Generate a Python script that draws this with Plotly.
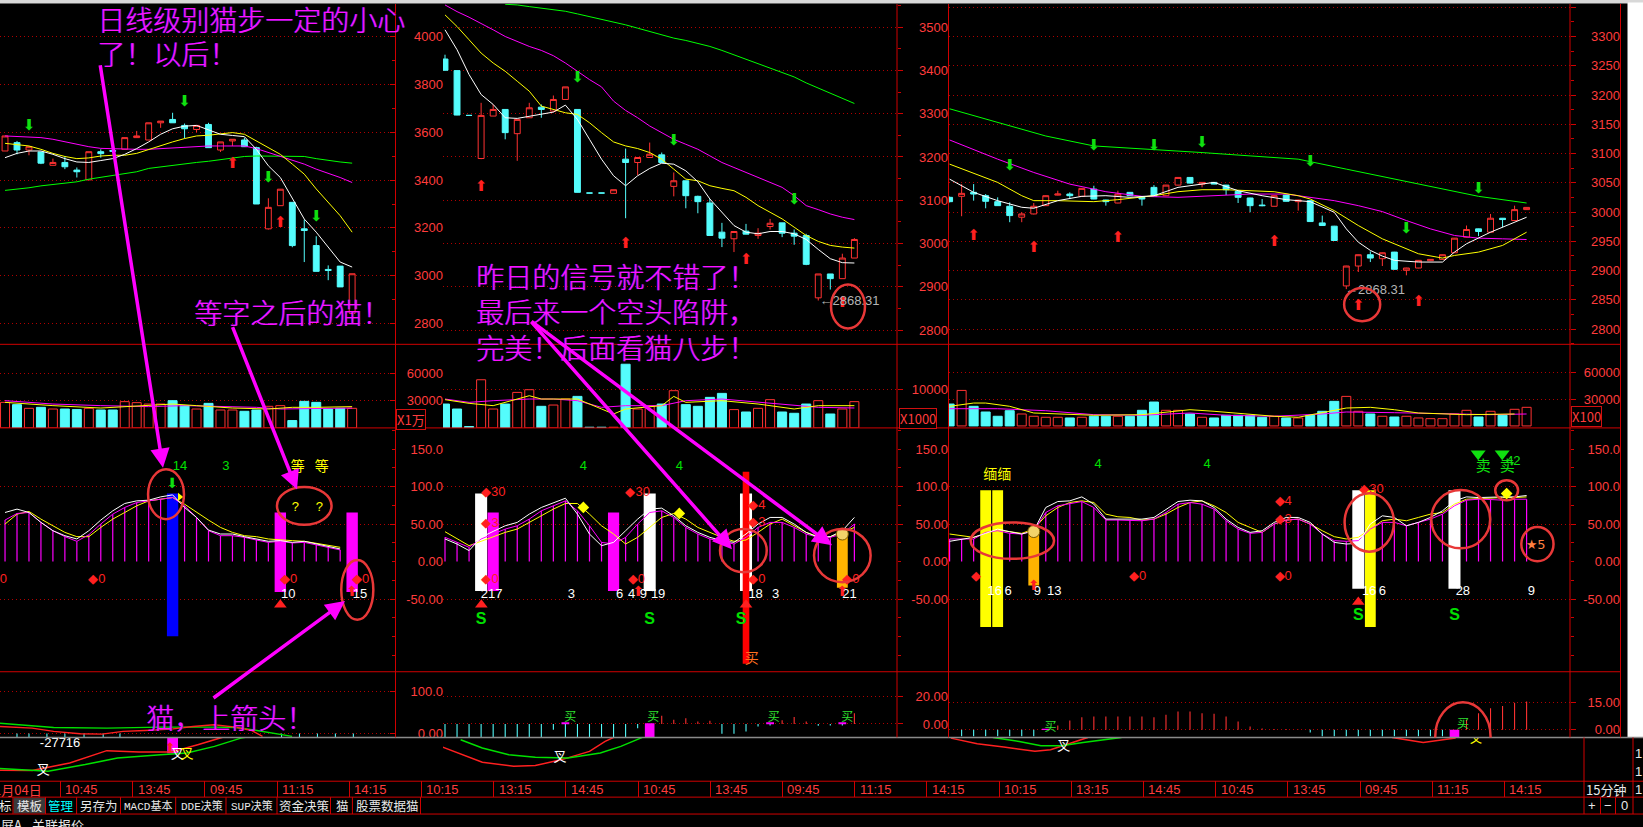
import plotly.graph_objects as go

W, H = 1643, 827

# ============================== DATA ==============================
# ---------- left column (daily), price scale 2800-4000 ----------
L_OPEN = [3522, 3557, 3526, 3518, 3462, 3474, 3442, 3401, 3519, 3524, 3529, 3578, 3568, 3640, 3654,
          3629, 3612, 3633, 3526, 3564, 3568, 3536, 3196, 3293, 3307, 3196, 3126, 3026, 3040, 2842]
L_HIGH = [3585, 3564, 3540, 3518, 3490, 3501, 3453, 3519, 3529, 3532, 3578, 3606, 3640, 3647, 3682,
          3637, 3629, 3640, 3560, 3571, 3578, 3540, 3324, 3362, 3307, 3235, 3165, 3043, 3040, 3008]
L_LOW = [3522, 3508, 3504, 3467, 3462, 3446, 3411, 3401, 3494, 3515, 3529, 3578, 3568, 3619, 3640,
         3574, 3601, 3536, 3518, 3543, 3540, 3300, 3193, 3293, 3119, 3057, 3018, 2981, 2953, 2842]
L_CLOSE = [3585, 3526, 3540, 3471, 3474, 3456, 3435, 3519, 3511, 3521, 3578, 3585, 3640, 3647, 3640,
           3615, 3629, 3536, 3560, 3571, 3540, 3300, 3286, 3362, 3126, 3189, 3018, 3022, 2953, 3008]
L_MA5 = [3494, 3512, 3522, 3522, 3508, 3490, 3476, 3474, 3482, 3490, 3508, 3532, 3560, 3592, 3615,
         3626, 3629, 3612, 3592, 3587, 3582, 3529, 3460, 3411, 3321, 3237, 3182, 3119, 3057, 3036]
L_MA10 = [3554, 3549, 3543, 3529, 3512, 3499, 3490, 3493, 3501, 3504, 3504, 3512, 3529, 3543, 3560,
          3574, 3585, 3588, 3593, 3599, 3592, 3564, 3536, 3508, 3467, 3425, 3363, 3307, 3251, 3182]
L_MA20 = [3585, 3583, 3581, 3578, 3571, 3560, 3549, 3540, 3533, 3531, 3529, 3529, 3529, 3532, 3535,
          3539, 3543, 3543, 3543, 3543, 3543, 3532, 3515, 3499, 3481, 3467, 3446, 3429, 3411, 3390]
L_MA60 = [3357, 3362, 3368, 3376, 3382, 3387, 3393, 3404, 3411, 3418, 3425, 3435, 3449, 3456, 3462,
          3468, 3474, 3479, 3485, 3490, 3499, 3501, 3501, 3501, 3501, 3499, 3490, 3482, 3476, 3471]
L_VOL = [28240, 25714, 21648, 22747, 20879, 20879, 20220, 21648, 19780, 19780, 29011, 27912, 26374, 26374, 30110,
         24615, 20879, 27143, 19780, 19780, 18352, 19780, 23846, 24615, 8132, 29341, 28242, 20879, 21648, 21648]
L_VMA_A_X = [0, 4, 8, 12, 14, 16, 19, 22, 24, 26, 29]
L_VMA_A = [28243, 24617, 21980, 24617, 26376, 24617, 21980, 20881, 22749, 22749, 23519]
L_VMA_B_X = [0, 4, 8, 12, 15, 18, 21, 23, 26, 29]
L_VMA_B = [30113, 26376, 24617, 23519, 24617, 23519, 22749, 20881, 21650, 21980]
L_K = [65.4, 69.9, 65.4, 52.2, 41.1, 34.5, 30.1, 41.1, 55.3, 67.6, 77.4, 80.9, 81.8, 86.2, 88.9,
       72.1, 58.8, 42.0, 36.7, 36.7, 33.2, 30.1, 27.0, 27.9, 25.6, 27.0, 23.4, 19.9, 16.8]
L_D = [50.0, 63.2, 66.8, 56.6, 47.7, 38.9, 33.2, 33.2, 45.5, 56.6, 65.4, 74.3, 80.9, 83.1, 85.3,
       76.5, 65.4, 55.3, 45.5, 38.9, 34.5, 33.2, 30.1, 28.7, 27.9, 27.0, 24.3, 21.2, 19.0]
L_J = [55.3, 64.1, 65.4, 52.2, 41.1, 33.2, 27.0, 35.8, 50.0, 63.2, 72.1, 78.7, 80.9, 83.1, 85.3,
       74.3, 58.8, 41.1, 34.5, 34.5, 32.3, 28.7, 25.6, 27.0, 24.8, 25.6, 22.5, 19.0, 15.5]
L_BLUE_X, L_BLUE_LO, L_BLUE_HI = [14], [-99.5], [90.6]
L_MAGBAR_X, L_MAGBAR_LO, L_MAGBAR_HI = [23, 29], [-40.7, -40.7], [65.4, 65.4]
L_HIST_X = [1, 2, 3.5, 5, 6.6, 8.2, 9.6, 23.1, 24.6, 26.1, 27.6, 29.1]
L_HIST = [-9.5, -9.5, -9.5, -9.5, -9.5, -9.5, -9.5, -9.5, -9.5, -9.5, -9.5, -9.5]
L_UPG_X = [-0.42, 4.06, 8.52, 13.0, 17.46, 19.27, 21.05, 22.85, 23.98]
L_UPG = [24.5, 14.3, 12.6, 15.0, 15.0, 14.3, 7.1, -0.7, -7.1]
L_UPR_X = [-0.42, 2.26, 4.06, 6.26, 8.1, 9.86, 11.66, 13.87, 15.7, 17.46, 19.27, 20.6, 21.51]
L_UPR = [16.7, 12.6, 4.8, -0.7, -1.7, 4.8, 7.1, 10.2, 16.7, 20.7, 15.0, 7.1, -7.1]
L_LOR_X = [-0.42, 2.26, 5.4, 8.5, 11.2, 13.9, 16.1, 18.4]
L_LOR = [-33000, -33300, -25700, -13300, -14700, -14700, -7300, 1000]
L_LOG_X = [-0.42, 3.6, 6.7, 9.4, 13.0, 15.2, 17.5, 19.7, 22.0]
L_LOG = [-31300, -34000, -27300, -20700, -17300, -15700, -9000, -700, 4000]
L_DN_X, L_DN_Y = [2, 15, 22, 26], [3626, 3724, 3407, 3244]
L_UPA_X, L_UPA_Y = [19, 23], [3467, 3221]

# ---------- middle column (60 min), price scale 2800-3500 ----------
M_OPEN = [3426.4, 3399.6, 3296.1, 3196.5, 3294.6, 3309.9, 3253.9, 3290.7, 3315.2, 3306.1, 3332.9, 3309.9,
          3116.7, 3116.7, 3116.0, 3195.0, 3187.3, 3198.8, 3204.9, 3132.1, 3145.1, 3109.1, 3093.8, 3026.3,
          3011.0, 3028.6, 3018.6, 3039.3, 3047.8, 3024.0, 3018.6, 2874.5, 2929.7, 2918.9, 2966.5]
M_HIGH = [3436.4, 3400.0, 3296.5, 3325.2, 3321.4, 3310.0, 3287.0, 3325.2, 3321.4, 3342.1, 3362.0, 3310.0,
          3117.0, 3117.0, 3124.4, 3219.5, 3198.8, 3233.3, 3210.3, 3164.3, 3145.1, 3110.6, 3102.9, 3047.8,
          3027.8, 3045.4, 3035.5, 3056.9, 3047.8, 3032.4, 3022.5, 2929.7, 2929.7, 2976.5, 3012.5]
M_LOW = [3399.6, 3296.5, 3295.7, 3194.9, 3294.6, 3240.9, 3191.1, 3290.7, 3290.7, 3303.0, 3332.9, 3118.0,
         3116.4, 3116.4, 3116.0, 3058.5, 3158.1, 3198.8, 3187.3, 3109.1, 3081.5, 3070.0, 3018.6, 2991.8,
         2980.3, 3021.7, 3011.0, 3032.4, 3014.8, 2997.2, 2950.0, 2868.31, 2893.7, 2918.9, 2966.5]
M_CLOSE = [3400.4, 3296.9, 3296.1, 3296.1, 3309.9, 3256.3, 3286.9, 3313.7, 3309.9, 3332.9, 3362.0, 3118.3,
           3116.7, 3116.7, 3124.4, 3187.3, 3198.8, 3206.4, 3187.3, 3145.1, 3110.6, 3096.8, 3018.6, 3012.5,
           3027.8, 3021.7, 3024.0, 3046.9, 3024.0, 3017.1, 2951.9, 2929.7, 2918.9, 2966.5, 3009.4]
M_MA5 = [3493.9, 3447.9, 3390.4, 3344.4, 3321.4, 3290.7, 3289.2, 3294.6, 3299.9, 3303.8, 3319.9, 3286.9,
         3240.9, 3194.9, 3156.6, 3133.6, 3156.6, 3173.5, 3185.7, 3183.4, 3168.1, 3142.8, 3102.9, 3072.3,
         3041.6, 3026.3, 3022.5, 3027.8, 3027.8, 3022.5, 3009.4, 2986.4, 2965.0, 2955.8, 2955.0]
M_MA10 = [3528.4, 3501.5, 3470.9, 3440.2, 3417.2, 3398.1, 3375.1, 3352.1, 3317.6, 3309.9, 3302.2, 3298.4,
          3279.2, 3256.3, 3234.8, 3225.6, 3219.5, 3210.3, 3194.9, 3171.9, 3148.9, 3145.1, 3133.6, 3127.5,
          3122.1, 3106.8, 3087.6, 3072.3, 3057.0, 3037.8, 3018.6, 3004.9, 2995.7, 2991.8, 2989.5]
M_MA20 = [3551.4, 3536.0, 3523.0, 3509.2, 3493.9, 3478.5, 3467.0, 3455.5, 3446.3, 3434.1, 3417.2, 3398.1,
          3378.9, 3362.0, 3329.1, 3307.6, 3290.7, 3271.6, 3256.3, 3240.9, 3229.4, 3217.9, 3202.6, 3187.3,
          3175.8, 3164.3, 3152.8, 3141.3, 3129.8, 3110.6, 3087.6, 3078.4, 3068.4, 3060.8, 3055.4]
M_MA60 = [None, None, None, None, None, 3552.9, 3551.4, 3547.5, 3543.7, 3539.9, 3536.8, 3530.7,
          3524.5, 3518.4, 3511.5, 3505.4, 3497.7, 3490.0, 3482.4, 3474.7, 3469.3, 3463.2, 3455.5, 3446.3,
          3436.4, 3424.9, 3415.7, 3405.7, 3395.8, 3385.0, 3371.2, 3359.7, 3348.2, 3336.0, 3323.7]
M_VOL = [6185, 4896, 361, 12473, 4896, 6185, 9200, 9896, 5592, 5927, 7473, 8169, 180, 180, 180, 16493, 4896, 5669,
         6185, 9638, 6030, 5592, 7911, 8942, 4742, 4123, 5077, 7319, 4123, 3788, 6185, 7061, 3608, 4896, 6803]
M_VMA_A_X = [0, 2, 4, 5, 7, 8, 10, 11, 13, 14, 15, 18, 19, 20, 23, 26, 29, 31, 34]
M_VMA_A = [7311, 6365, 5764, 6623, 8341, 7481, 7481, 7481, 4904, 3616, 4904, 5764, 8169, 6623, 7053, 6193, 4904, 5764, 5764]
M_VMA_B_X = [0, 2, 4, 7, 9, 11, 13, 15, 18, 20, 23, 26, 29, 31, 34]
M_VMA_B = [7481, 6623, 7053, 7481, 7481, 7053, 5334, 5764, 5764, 7053, 7481, 6623, 5764, 5334, 5162]
M_K = [30.1, 23.4, 14.6, 32.3, 40.2, 47.7, 52.2, 63.2, 72.1, 78.7, 84.4, 63.2, 36.7, 21.2, 25.6, 41.1, 56.6, 69.9,
       71.2, 61.0, 47.7, 38.9, 32.3, 27.9, 25.6, 36.7, 50.0, 58.8, 58.8, 50.0, 38.9, 32.3, 33.2, 41.1, 58.8]
M_D = [39.8, 30.1, 21.2, 27.0, 33.2, 38.9, 43.3, 52.2, 61.0, 69.9, 77.4, 77.4, 63.2, 47.7, 36.7, 23.4, 32.3, 45.5,
       58.8, 64.1, 56.6, 45.5, 38.9, 32.3, 27.0, 28.7, 38.9, 50.0, 56.6, 47.7, 38.9, 33.2, 33.2, 38.9, 45.5]
M_J = [32.3, 25.6, 19.0, 30.1, 36.7, 43.3, 47.7, 56.6, 67.6, 74.3, 80.9, 67.6, 47.7, 25.6, 23.4, 32.3, 50.0, 65.4,
       67.6, 58.8, 45.5, 36.7, 30.1, 27.0, 23.4, 32.3, 45.5, 52.2, 52.2, 45.5, 36.7, 32.3, 32.3, 36.7, 50.0]
M_WHITE_X, M_WHITE_LO, M_WHITE_HI = [3, 17, 25], [-39.3, -39.3, -39.3], [90.6, 90.6, 90.6]
M_MAGBAR_X, M_MAGBAR_LO, M_MAGBAR_HI = [4, 14], [-39.3, -39.3], [65.4, 65.4]
M_RED_X, M_RED_LO, M_RED_HI = [25], [-136.2], [119.8]
M_ORANGE_X, M_ORANGE_LO, M_ORANGE_HI = [33], [-34.9], [36.7]
M_HIST = [-9.6, -9.6, -9.6, -9.6, -9.6, -9.6, -9.6, -9.6, -9.6, -4.1, -9.6, -9.6, -9.6, -9.6, -9.6, -9.6, -3.0,
          -9.6, 5.9, 3.0, 4.1, 1.8, 2.3, -7.0, -7.0, -5.4, -1.8, -1.0, 2.7, 5.0, 1.8, -1.3, -1.0, -1.0, 7.7]
M_LOR_X = [-1.8, 0, 1.75, 3.1, 5.7, 7.5, 9.7, 12.0, 13.3, 14.2]
M_LOR = [-2300, -10700, -19000, -25000, -29000, -28300, -22300, -14000, -4000, 1000]
M_LOG_X = [1.3, 3.1, 5.3, 7.5, 10.2, 12.9, 14.6, 16.4]
M_LOG = [-2300, -10700, -17300, -20000, -20700, -15700, -9000, 0]
M_DN_X, M_DN_Y = [11, 19, 29], [3382.7, 3237.1, 3099.1]
M_UPA_X, M_UPA_Y = [3, 15, 25, 33], [3129.8, 2997.9, 2961.1, 2861.5]

# ---------- right column (15 min), price scale 2800-3350 ----------
R_OPEN = [3025.2, 3026.9, 3033.7, 3028.0, 3017.8, 3009.9, 2991.2, 2996.8, 3011.0, 3029.0, 3030.8, 3026.9, 3039.3,
          3020.6, 3015.5, 3033.7, 3025.2, 3042.2, 3028.0, 3046.1, 3059.2, 3047.8, 3050.7, 3046.1, 3035.4, 3024.1,
          3012.0, 3009.9, 3029.1, 3017.8, 3019.5, 2981.5, 2975.9, 2873.8, 2907.8, 2927.1, 2920.3, 2931.6, 2900.5,
          2904.4, 2916.9, 2919.2, 2930.5, 2957.1, 2971.3, 2965.6, 2989.5, 2985.5, 3004.2]
R_HIGH = [3026.5, 3047.8, 3047.8, 3030.8, 3025.2, 3016.6, 2999.7, 3015.5, 3028.5, 3036.5, 3033.7, 3041.0, 3045.0,
          3021.0, 3036.5, 3034.0, 3025.5, 3046.1, 3046.5, 3059.5, 3059.5, 3051.0, 3051.0, 3046.5, 3035.8, 3024.5,
          3022.3, 3028.5, 3029.5, 3021.0, 3020.0, 2994.0, 2976.5, 2908.2, 2927.5, 2932.8, 2931.0, 2932.0, 2904.8,
          2918.0, 2919.6, 2927.5, 2955.8, 2977.0, 2971.7, 2996.8, 2989.9, 3011.0, 3008.4]
R_LOW = [3016.5, 2992.9, 3019.5, 3006.5, 3010.5, 2982.7, 2982.7, 2996.0, 3010.5, 3028.5, 3022.3, 3026.5, 3022.0,
         3011.0, 3015.0, 3027.5, 3011.0, 3026.5, 3027.5, 3045.5, 3049.0, 3042.2, 3047.5, 3029.1, 3015.5, 2999.7,
         3009.9, 3009.5, 3018.0, 3002.5, 2983.5, 2976.5, 2951.0, 2868.31, 2897.6, 2914.6, 2907.8, 2901.8, 2891.9,
         2904.0, 2916.5, 2918.8, 2930.1, 2956.7, 2958.8, 2965.2, 2974.1, 2985.1, 3003.8]
R_CLOSE = [3017.8, 3032.0, 3030.8, 3018.4, 3011.0, 2994.0, 2996.8, 3009.9, 3028.0, 3030.8, 3028.0, 3040.5, 3022.3,
           3017.8, 3030.8, 3028.0, 3022.3, 3026.9, 3046.1, 3059.2, 3049.5, 3050.7, 3047.8, 3038.2, 3025.2, 3011.0,
           3011.0, 3028.0, 3018.4, 3020.6, 2983.8, 2977.0, 2951.4, 2907.8, 2927.1, 2921.4, 2930.5, 2902.2, 2904.4,
           2917.5, 2919.2, 2927.1, 2955.4, 2970.2, 2966.8, 2989.5, 2987.2, 3004.2, 3008.0]
R_MA5_X = [0, 2, 4, 6, 7, 9, 11, 13, 15, 17, 19, 21, 22, 24, 26, 28, 30, 32, 33, 34, 35, 36, 37, 39, 41, 42, 43, 45, 47, 48]
R_MA5 = [3056.3, 3033.7, 3019.5, 3008.2, 3006.5, 3019.5, 3026.9, 3028.0, 3025.2, 3028.0, 3042.2, 3047.8, 3050.7,
         3036.5, 3028.0, 3021.2, 3017.8, 2999.7, 2971.3, 2948.6, 2934.5, 2924.8, 2917.5, 2914.6, 2914.6, 2931.6,
         2945.8, 2965.6, 2982.7, 2991.2]
R_MA10_X = [0, 4, 6, 7, 9, 12, 14, 17, 19, 21, 23, 25, 27, 29, 30, 32, 34, 36, 38, 39, 41, 42, 44, 46, 48]
R_MA10 = [3081.9, 3050.7, 3028.0, 3019.5, 3019.5, 3017.8, 3021.2, 3028.0, 3034.8, 3038.2, 3038.2, 3036.5, 3034.8,
          3028.0, 3022.3, 3002.5, 2977.0, 2954.3, 2937.3, 2928.8, 2921.4, 2925.9, 2931.6, 2943.0, 2965.6]
R_MA20_X = [0, 4, 7, 10, 13, 16, 19, 22, 25, 28, 30, 32, 34, 36, 38, 40, 42, 44, 46, 48]
R_MA20 = [3123.2, 3090.4, 3067.7, 3047.8, 3034.8, 3026.9, 3025.2, 3028.0, 3030.8, 3030.8, 3025.2, 3019.5, 3011.0,
          3000.8, 2985.5, 2971.3, 2960.0, 2955.4, 2954.3, 2953.1]
R_MA60_X = [0, 4, 8, 12, 17, 21, 25, 29, 33, 37, 41, 44, 48]
R_MA60 = [3176.5, 3152.7, 3130.0, 3113.0, 3107.4, 3101.7, 3096.0, 3090.4, 3073.4, 3056.3, 3039.3, 3026.9, 3015.5]
R_VOL = [24728, 40127, 22143, 15736, 10903, 17197, 13488, 10903, 9779, 9779, 8992, 9779, 10903, 10903, 10903,
         10903, 17647, 26976, 17647, 17647, 13488, 9779, 8992, 12027, 12027, 12027, 9779, 10903, 8992, 8992,
         12027, 16523, 27763, 33383, 16523, 13488, 10903, 10116, 10903, 8992, 8205, 8205, 13488, 17647, 10116,
         16523, 12027, 18771, 21019]
R_VMA_A_X = [0, 2, 3, 5, 7, 12, 16, 20, 22, 27, 29, 31, 33, 35, 37, 39, 43, 47]
R_VMA_A = [22143, 25852, 25852, 22143, 14612, 12027, 12701, 18321, 16523, 10903, 9779, 14612, 20232, 21019,
           18321, 14612, 12701, 13488]
R_VMA_B_X = [0, 4, 8, 12, 16, 20, 23, 27, 31, 33, 37, 41, 45, 48]
R_VMA_B = [19445, 19445, 17197, 12701, 12027, 14612, 12027, 10903, 13488, 15736, 14949, 13488, 12701, 13488]
R_K = [27.0, 29.6, 32.3, 37.6, 43.3, 39.8, 36.7, 41.1, 72.1, 80.0, 80.9, 86.2, 76.5, 56.6, 56.6, 56.6, 56.6,
       58.8, 69.9, 80.0, 81.8, 80.9, 72.1, 56.6, 45.5, 38.9, 41.1, 52.2, 58.8, 58.8, 52.2, 36.7, 25.6, 23.4,
       24.3, 50.0, 61.0, 58.8, 47.7, 52.2, 58.8, 67.6, 80.9, 86.2, 85.3, 86.2, 86.2, 86.2, 88.0]
R_D = [36.7, 34.5, 32.3, 37.6, 42.0, 39.8, 37.6, 43.3, 61.0, 72.1, 78.7, 80.9, 78.7, 63.2, 59.7, 58.8, 55.3,
       56.6, 63.2, 72.1, 78.7, 80.9, 74.3, 65.4, 52.2, 45.5, 38.9, 50.0, 55.3, 56.6, 50.0, 41.1, 33.2, 30.1,
       32.3, 43.3, 54.4, 56.6, 54.4, 58.8, 63.2, 65.4, 76.5, 83.1, 84.0, 84.4, 85.3, 85.3, 86.2]
R_J = [30.1, 30.1, 30.1, 38.9, 41.1, 37.6, 36.7, 41.1, 65.4, 74.3, 77.4, 80.0, 72.1, 55.3, 55.3, 55.3, 54.4,
       56.6, 65.4, 76.5, 78.7, 76.5, 69.9, 54.4, 43.3, 37.6, 38.9, 50.0, 55.3, 56.6, 50.0, 36.7, 27.9, 27.0,
       27.9, 43.3, 52.2, 52.2, 47.7, 52.2, 56.6, 63.2, 74.3, 81.8, 83.1, 82.7, 81.8, 83.1, 83.1]
R_YELLOW_X, R_YELLOW_LO, R_YELLOW_HI = [3, 4, 35], [-87.1, -87.1, -87.1], [95.0, 95.0, 95.0]
R_WHITE_X, R_WHITE_LO, R_WHITE_HI = [34, 42], [-36.3, -36.3], [95.0, 95.0]
R_ORANGE_X, R_ORANGE_LO, R_ORANGE_HI = [7], [-31.8], [36.7]
R_HIST = [0, -3.6, -3.6, -3.6, -3.6, -3.6, -3.6, -3.6, 0.3, 2.36, 5.07, 6.9, 7.25, 7.25, 7.25, 7.25, 7.25, 6.9,
          8.15, 9.96, 9.96, 9.06, 8.7, 7.25, 4.5, 1.8, 0.7, 0.4, 0.4, 0.1, -1.5, -3.6, -3.6, -3.6, -3.6, -3.6,
          -3.6, -3.6, -3.6, -3.6, -3.6, -3.6, 0, 5.4, 9.06, 11.8, 13.0, 14.8, 15.4]
R_LOR1_X = [0.1, 2.3, 4.5, 7.1, 8.4, 9.7, 11.5]
R_LOR1 = [-700, -6300, -9700, -14000, -12300, -7300, 0]
R_LOG_X = [3.6, 5.8, 7.6, 9.3, 11.1, 12.8, 14.3]
R_LOG = [0, -4000, -8300, -8300, -5000, -2300, 0]
R_LOR2_X = [36.8, 39.4, 42.1]
R_LOR2 = [0, -5000, -700]
R_DN_X, R_DN_Y = [5, 12, 17, 21, 30, 38, 44], [3079.0, 3113.0, 3113.0, 3117.6, 3085.8, 2970.2, 3038.2]
R_UPA_X, R_UPA_Y = [2, 7, 14, 27, 34, 39], [2958.8, 2937.3, 2956.0, 2948.6, 2839.8, 2846.6]

# ---------- axis labels ----------
PRICE_TICKS = {"L": [2800, 3000, 3200, 3400, 3600, 3800, 4000],
               "M": [2800, 2900, 3000, 3100, 3200, 3300, 3400, 3500],
               "R": [2800, 2850, 2900, 2950, 3000, 3050, 3100, 3150, 3200, 3250, 3300, 3350]}
VOL_TICKS = {"L": [30000, 60000], "M": [10000], "R": [30000, 60000]}
IND_TICKS = [150, 100, 50, 0, -50]
IND_TEXT = ["150.0", "100.0", "50.00", "0.00", "-50.00"]
MUP_TICKS = {"L": ([100, 0], ["100.0", "0.00"]), "M": ([20, 0], ["20.00", "0.00"]), "R": ([15, 0], ["15.00", "0.00"])}
VOL_UNIT = [("X1万", 411, 421.5), ("X1000", 918, 420.5), ("X100", 1586, 419)]
TIME_LABELS = ["10:45", "13:45", "09:45", "11:15", "14:15", "10:15", "13:15", "14:45", "10:45", "13:45", "09:45",
               "11:15", "14:15", "10:15", "13:15", "14:45", "10:45", "13:45", "09:45", "11:15", "14:15"]
FIRST_DATE = "1月04日"
TABS = ["标", "模板", "管理", "另存为", "MACD基本", "DDE决策", "SUP决策", "资金决策", "猫", "股票数据猫"]
NOTES = ["日线级别猫步一定的小心", "了！以后！", "等字之后的猫！", "昨日的信号就不错了！",
         "最后来一个空头陷阱，", "完美！后面看猫八步！", "猫，上箭头！"]

# ============================ STYLE / GEOMETRY ============================
UP, DOWN, MAG, YEL, WHT, GRN = "#FF3232", "#54FCFC", "#FF00FF", "#FFFF00", "#FFFFFF", "#00E000"
FRAME, GRIDC, AXC = "#D00000", "#B00000", "#FF3C3C"
NUMF = "Liberation Sans, Arial, sans-serif"
CJKF = "Noto Sans CJK SC, sans-serif"
TABF = "Liberation Mono, Noto Sans CJK SC, monospace"
ARRF = "DejaVu Sans"


def fx(p):
    return p / W


def fy(p):
    return 1 - p / H


COLS = ["L", "M", "R"]
ROWS = ["price", "vol", "ind", "mup", "mlo"]
COLX = {"L": (0, 395), "M": (443, 897), "R": (949, 1570)}
ROWY = {"price": (4, 346), "vol": (346, 430), "ind": (430, 675), "mup": (675, 741), "mlo": (741, 785)}
XR = {"L": [-0.42, 32.58], "M": [-0.166, 37.54], "R": [-0.05, 51.61]}
YR = {("L", "price"): [2712.5, 4137.5], ("M", "price"): [2767.1, 3553.6], ("R", "price"): [2774.0, 3355.6],
      ("L", "vol"): [0, 92316], ("M", "vol"): [0, 21647], ("R", "vol"): [-2248, 92168],
      ("L", "ind"): [-146.8, 178.1], ("M", "ind"): [-146.8, 178.1], ("R", "ind"): [-146.8, 178.1],
      ("L", "mup"): [-9.52, 147.6], ("M", "mup"): [-9.64, 37.5], ("R", "mup"): [-4.18, 31.7],
      ("L", "mlo"): [-44000, 0], ("M", "mlo"): [-44000, 0], ("R", "mlo"): [-44000, 0]}
LABX = {"L": 443, "M": 948, "R": 1620}
MINOR = {("L", "price"): 100, ("M", "price"): 50, ("R", "price"): 25,
         ("L", "ind"): 25, ("M", "ind"): 25, ("R", "ind"): 25}


def ax_n(c, r):
    return COLS.index(c) * 5 + ROWS.index(r) + 1


def xa(c, r):
    n = ax_n(c, r)
    return "x" if n == 1 else "x%d" % n


def ya(c, r):
    n = ax_n(c, r)
    return "y" if n == 1 else "y%d" % n


def grid_vals(c, r):
    if r == "price":
        return PRICE_TICKS[c]
    if r == "vol":
        return VOL_TICKS[c]
    if r == "ind":
        return [100, 50, -50]
    if r == "mup":
        return MUP_TICKS[c][0]
    return None


fig = go.Figure()
layout = dict(width=W, height=H, margin=dict(l=0, r=0, t=0, b=0), paper_bgcolor="#000000",
              plot_bgcolor="#000000", showlegend=False, barmode="overlay", hovermode=False, dragmode=False)

for c in COLS:
    for r in ROWS:
        n = ax_n(c, r)
        sx = "" if n == 1 else str(n)
        x0, x1 = COLX[c]
        y0, y1 = ROWY[r]
        xd = dict(domain=[fx(x0), fx(x1)], range=XR[c], anchor="y" + sx, visible=False, fixedrange=True)
        if r == "price":
            xd["rangeslider"] = dict(visible=False)
        layout["xaxis" + sx] = xd
        yd = dict(domain=[fy(y1), fy(y0)], range=YR[(c, r)], anchor="x" + sx, side="right",
                  showticklabels=False, zeroline=False, showline=False, fixedrange=True)
        gv = grid_vals(c, r)
        if gv:
            yd.update(showgrid=True, tickmode="array", tickvals=gv, gridcolor=GRIDC, griddash="1px,3px",
                      gridwidth=1, ticks=("inside" if c == "L" else "outside"), ticklen=5, tickcolor=FRAME)
        else:
            yd.update(showgrid=False, ticks="")
        if (c, r) in MINOR:
            yd["minor"] = dict(dtick=MINOR[(c, r)], tick0=0, ticks=("inside" if c == "L" else "outside"),
                               ticklen=3, tickcolor=FRAME, showgrid=False)
        layout["yaxis" + sx] = yd

# label axes (drawn in the gaps between the columns)
lab = 16
for c in COLS:
    for r in ["price", "vol", "ind", "mup"]:
        if r == "price":
            vals = PRICE_TICKS[c]
            texts = [str(v) for v in vals]
        elif r == "vol":
            vals = VOL_TICKS[c]
            texts = [str(v) for v in vals]
        elif r == "ind":
            vals, texts = IND_TICKS, IND_TEXT
        else:
            vals, texts = MUP_TICKS[c]
        layout["yaxis%d" % lab] = dict(overlaying=ya(c, r), anchor="free", position=fx(LABX[c]), side="left",
                                       range=YR[(c, r)], tickmode="array", tickvals=vals, ticktext=texts,
                                       showgrid=False, zeroline=False, showline=False, ticks="",
                                       tickfont=dict(color=AXC, size=13, family=NUMF), fixedrange=True)
        fig.add_trace(go.Scatter(x=[None], y=[None], xaxis=xa(c, r), yaxis="y%d" % lab, showlegend=False,
                                 hoverinfo="skip"))
        lab += 1

# time axis row
TN = lab
T0, TSTEP = 60.5, 72.2
layout["xaxis%d" % TN] = dict(domain=[0, 1], range=[-T0 / TSTEP, (W - T0) / TSTEP], anchor="y%d" % TN,
                              side="top", tickmode="array", tickvals=list(range(len(TIME_LABELS))),
                              showticklabels=False, ticks="inside", ticklen=16, tickcolor=FRAME, tickwidth=1,
                              showgrid=False, zeroline=False, showline=False, fixedrange=True)
layout["yaxis%d" % TN] = dict(domain=[fy(801), fy(785)], range=[0, 1], visible=False, fixedrange=True)
fig.add_trace(go.Scatter(x=[None], y=[None], xaxis="x%d" % TN, yaxis="y%d" % TN, showlegend=False))


# ============================ TRACE HELPERS ============================
def candles(c, o, h, l, cl):
    fig.add_trace(go.Candlestick(x=list(range(len(o))), open=o, high=h, low=l, close=cl,
                                 increasing=dict(line=dict(color=UP, width=1), fillcolor="#000000"),
                                 decreasing=dict(line=dict(color=DOWN, width=1), fillcolor=DOWN),
                                 whiskerwidth=0, xaxis=xa(c, "price"), yaxis=ya(c, "price"),
                                 hoverinfo="skip", showlegend=False))


def line(c, r, xs, ys, color, width=1.0):
    fig.add_trace(go.Scatter(x=xs, y=ys, mode="lines", line=dict(color=color, width=width),
                             xaxis=xa(c, r), yaxis=ya(c, r), hoverinfo="skip", showlegend=False))


def volume(c, o, cl, v):
    up = [b > a for a, b in zip(o, cl)]
    fig.add_trace(go.Bar(x=list(range(len(v))), y=v, width=0.75,
                         marker=dict(color=["#000000" if u else DOWN for u in up],
                                     line=dict(color=[UP if u else DOWN for u in up], width=1)),
                         xaxis=xa(c, "vol"), yaxis=ya(c, "vol"), hoverinfo="skip", showlegend=False))


def bars(c, r, xs, lo, hi, color, width=0.95):
    fig.add_trace(go.Bar(x=xs, y=[b - a for a, b in zip(lo, hi)], base=lo, width=width,
                         marker=dict(color=color, line=dict(width=0)),
                         xaxis=xa(c, r), yaxis=ya(c, r), hoverinfo="skip", showlegend=False))


def sticks(c, r, xs, vals, colors, width=0.09):
    fig.add_trace(go.Bar(x=xs, y=vals, width=width, marker=dict(color=colors, line=dict(width=0)),
                         xaxis=xa(c, r), yaxis=ya(c, r), hoverinfo="skip", showlegend=False))


def txt(c, r, xs, ys, texts, color, size=13, family=NUMF, pos="middle center"):
    fig.add_trace(go.Scatter(x=xs, y=ys, text=texts, mode="text", textposition=pos,
                             textfont=dict(color=color, size=size, family=family),
                             xaxis=xa(c, r), yaxis=ya(c, r), hoverinfo="skip", showlegend=False))


def marks(c, r, xs, ys, symbol, color, size=9, lc=None):
    fig.add_trace(go.Scatter(x=xs, y=ys, mode="markers",
                             marker=dict(symbol=symbol, color=color, size=size,
                                         line=dict(color=lc or color, width=1 if lc else 0)),
                             xaxis=xa(c, r), yaxis=ya(c, r), hoverinfo="skip", showlegend=False))


# ============================ PRICE ============================
for c, o, h, l, cl in [("L", L_OPEN, L_HIGH, L_LOW, L_CLOSE), ("M", M_OPEN, M_HIGH, M_LOW, M_CLOSE),
                       ("R", R_OPEN, R_HIGH, R_LOW, R_CLOSE)]:
    candles(c, o, h, l, cl)

line("L", "price", list(range(len(L_MA60))), L_MA60, "#00FF00")
line("L", "price", list(range(len(L_MA20))), L_MA20, MAG)
line("L", "price", list(range(len(L_MA10))), L_MA10, YEL)
line("L", "price", list(range(len(L_MA5))), L_MA5, WHT)
line("M", "price", list(range(len(M_MA60))), M_MA60, "#00FF00")
line("M", "price", list(range(len(M_MA20))), M_MA20, MAG)
line("M", "price", list(range(len(M_MA10))), M_MA10, YEL)
line("M", "price", list(range(len(M_MA5))), M_MA5, WHT)
line("R", "price", R_MA60_X, R_MA60, "#00FF00")
line("R", "price", R_MA20_X, R_MA20, MAG)
line("R", "price", R_MA10_X, R_MA10, YEL)
line("R", "price", R_MA5_X, R_MA5, WHT)

for c, dx, dy, ux, uy in [("L", L_DN_X, L_DN_Y, L_UPA_X, L_UPA_Y), ("M", M_DN_X, M_DN_Y, M_UPA_X, M_UPA_Y),
                          ("R", R_DN_X, R_DN_Y, R_UPA_X, R_UPA_Y)]:
    txt(c, "price", dx, dy, ["⬇"] * len(dx), "#10E010", 15, ARRF)
    txt(c, "price", ux, uy, ["⬆"] * len(ux), "#FF2020", 15, ARRF)

txt("M", "price", [31.1], [2866], ["←2868.31"], "#B4B4B4", 13, NUMF, "middle right")
txt("R", "price", [32.9], [2866.3], ["←2868.31"], "#B4B4B4", 13, NUMF, "middle right")

# ============================ VOLUME ============================
volume("L", L_OPEN, L_CLOSE, L_VOL)
volume("M", M_OPEN, M_CLOSE, M_VOL)
volume("R", R_OPEN, R_CLOSE, R_VOL)
line("L", "vol", L_VMA_B_X, L_VMA_B, MAG)
line("L", "vol", L_VMA_A_X, L_VMA_A, YEL)
line("M", "vol", M_VMA_B_X, M_VMA_B, MAG)
line("M", "vol", M_VMA_A_X, M_VMA_A, YEL)
line("R", "vol", R_VMA_B_X, R_VMA_B, MAG)
line("R", "vol", R_VMA_A_X, R_VMA_A, YEL)

# ============================ INDICATOR ============================
for c, k, d, j in [("L", L_K, L_D, L_J), ("M", M_K, M_D, M_J), ("R", R_K, R_D, R_J)]:
    sticks(c, "ind", list(range(len(j))), j, MAG, 0.1)
    line(c, "ind", list(range(len(d))), d, YEL)
    line(c, "ind", list(range(len(j))), j, MAG)
    line(c, "ind", list(range(len(k))), k, WHT)

# left
bars("L", "ind", L_BLUE_X, L_BLUE_LO, L_BLUE_HI, "#0000FF")
bars("L", "ind", L_MAGBAR_X, L_MAGBAR_LO, L_MAGBAR_HI, MAG)
txt("L", "ind", [14.62, 18.44], [126, 126], ["14", "3"], GRN, 13)
txt("L", "ind", [24.45, 26.46], [125.1, 125.1], ["等", "等"], YEL, 14, CJKF)
txt("L", "ind", [24.25, 26.26], [71.2, 71.2], ["?", "?"], YEL, 13)
txt("L", "ind", [-0.14, 7.67, 23.7, 29.7], [-24.3] * 4, ["0", "◆0", "◆0", "◆0"], "#FF2020", 13)
txt("L", "ind", [23.67, 29.65], [-44.2, -44.2], ["10", "15"], WHT, 13)
marks("L", "ind", [23.0], [-57.5], "triangle-up", "#FF2020", 11)
txt("L", "ind", [13.98], [103], ["⬇"], "#10E010", 14, ARRF)
txt("L", "ind", [29.0], [-40.7], ["⬆"], "#FF2020", 14, ARRF)
marks("L", "ind", [14.6], [86.2], "triangle-right", YEL, 7)

# middle
bars("M", "ind", M_WHITE_X, M_WHITE_LO, M_WHITE_HI, WHT, 1.0)
bars("M", "ind", M_MAGBAR_X, M_MAGBAR_LO, M_MAGBAR_HI, MAG, 0.93)
txt("M", "ind", [3.0, 17.0, 24.6], [-78.3] * 3, ["<b>S</b>"] * 3, GRN, 16)
bars("M", "ind", M_RED_X, M_RED_LO, M_RED_HI, "#FF0000", 0.55)
bars("M", "ind", M_ORANGE_X, M_ORANGE_LO, M_ORANGE_HI, "#FFB400", 0.9)
txt("M", "ind", [11.49, 19.46], [126, 126], ["4", "4"], GRN, 13)
txt("M", "ind", [4.0, 16.0, 3.74, 3.74, 15.9, 25.9, 25.9, 25.9, 33.7],
    [91.1, 91.1, 50.8, -24.3, -24.3, 74.3, 52.2, -24.3, -24.3],
    ["◆30", "◆30", "◆3", "◆0", "◆0", "◆4", "◆3", "◆0", "◆0"], "#FF2020", 13)
txt("M", "ind", [3.88, 10.5, 14.5, 15.5, 16.47, 17.7, 25.8, 27.45, 33.6], [-44.2] * 9,
    ["217", "3", "6", "4", "9", "19", "18", "3", "21"], WHT, 13)
marks("M", "ind", [3.02, 25.0], [-57.5, -57.5], "triangle-up", "#FF2020", 11)
txt("M", "ind", [25.47], [-130.4], ["买"], "#FF7020", 14, CJKF)
txt("M", "ind", [16.06, 33.0], [-40.7, -40.7], ["⬆", "⬆"], "#FF2020", 14, ARRF)
marks("M", "ind", [11.49, 19.46], [72.1, 64.1], "diamond", YEL, 9)
marks("M", "ind", [33.0], [36.7], "circle", "#F2D36A", 12, "#7A5A00")

# right
bars("R", "ind", R_YELLOW_X, R_YELLOW_LO, R_YELLOW_HI, YEL, 0.9)
bars("R", "ind", R_WHITE_X, R_WHITE_LO, R_WHITE_HI, WHT, 1.0)
bars("R", "ind", R_ORANGE_X, R_ORANGE_LO, R_ORANGE_HI, "#FFB400", 0.9)
txt("R", "ind", [3.96], [114.9], ["缅缅"], YEL, 14, CJKF)
txt("R", "ind", [12.35, 21.42], [129.4, 129.4], ["4", "4"], GRN, 13)
txt("R", "ind", [2.18, 15.65, 27.75, 27.75, 27.75, 35.1], [-19.9, -19.9, 79.6, 55.3, -19.9, 96.3],
    ["◆", "◆0", "◆4", "◆3", "◆0", "◆30"], "#FF2020", 13)
txt("R", "ind", [3.76, 4.86, 7.3, 8.7, 34.9, 36.0, 42.7, 48.4], [-40.7] * 8,
    ["16", "6", "9", "13", "16", "6", "28", "9"], WHT, 13)
marks("R", "ind", [34.0], [-54.0], "triangle-up", "#FF2020", 11)
txt("R", "ind", [34.0, 42.0], [-73.0, -73.0], ["<b>S</b>", "<b>S</b>"], GRN, 16)
marks("R", "ind", [43.97, 45.97], [143.7, 143.7], "triangle-down", "#10E010", 13)
txt("R", "ind", [44.4, 46.4], [125.1, 125.1], ["卖", "卖"], "#10E010", 15, CJKF)
txt("R", "ind", [46.9], [133], ["42"], "#10E010", 13)
marks("R", "ind", [46.34], [90.6], "diamond", YEL, 9)
txt("R", "ind", [48.75], [21.2], ["★5"], "#FF8040", 13, ARRF)
marks("R", "ind", [7.0], [40.0], "circle", "#F2D36A", 12, "#7A5A00")
txt("R", "ind", [7.0], [-33.2], ["⬆"], "#FF2020", 14, ARRF)

# ============================ MACD (upper part) ============================
sticks("L", "mup", L_HIST_X, L_HIST, DOWN)
line("L", "mup", L_UPG_X, L_UPG, "#00E000", 1.4)
line("L", "mup", L_UPR_X, L_UPR, "#FF2020", 1.4)

sticks("M", "mup", list(range(len(M_HIST))), M_HIST, [UP if v > 0 else DOWN for v in M_HIST])
bars("M", "mup", [17], [-9.3], [0.6], MAG, 0.8)
bars("M", "mup", [10, 27, 33], [-0.1, -0.1, -0.1], [1.3, 1.3, 1.3], MAG, 0.65)
txt("M", "mup", [10.4, 17.3, 27.3, 33.4], [4.1] * 4, ["买"] * 4, "#30E030", 12, CJKF)

sticks("R", "mup", list(range(len(R_HIST))), R_HIST, [UP if v > 0 else DOWN for v in R_HIST])
bars("R", "mup", [42], [-4.0], [0.0], MAG, 0.8)
bars("R", "mup", [8], [-0.1], [0.6], MAG, 0.65)
txt("R", "mup", [8.4, 42.7], [0.9, 2.7], ["买", "买"], "#30E030", 12, CJKF)

# ============================ MACD (lower part) ============================
line("L", "mlo", L_LOR_X, L_LOR, "#FF2020", 1.5)
line("L", "mlo", L_LOG_X, L_LOG, "#00E000", 1.5)
bars("L", "mlo", [14], [-16000], [0], MAG, 0.9)
txt("L", "mlo", [13.8], [-11000], ["⬆"], "#FF2020", 13, ARRF)
txt("L", "mlo", [4.6], [-6000], ["-27716"], WHT, 13)
txt("L", "mlo", [3.2, 14.4], [-34000, -17000], ["叉", "叉"], WHT, 13, CJKF)
txt("L", "mlo", [15.2], [-17000], ["叉"], YEL, 13, CJKF)
line("M", "mlo", M_LOR_X, M_LOR, "#FF2020", 1.5)
line("M", "mlo", M_LOG_X, M_LOG, "#00E000", 1.5)
txt("M", "mlo", [9.55], [-20700], ["叉"], WHT, 13, CJKF)
line("R", "mlo", R_LOR1_X, R_LOR1, "#FF2020", 1.5)
line("R", "mlo", R_LOG_X, R_LOG, "#00E000", 1.5)
line("R", "mlo", R_LOR2_X, R_LOR2, "#FF2020", 1.5)
txt("R", "mlo", [9.5], [-9000], ["叉"], WHT, 13, CJKF)
txt("R", "mlo", [43.8], [-2500], ["叉"], YEL, 12, CJKF)

# ============================ SHAPES ============================
SH = []


def hl(y, x0, x1, color=FRAME, w=1):
    SH.append(dict(type="line", xref="paper", yref="paper", x0=fx(x0), x1=fx(x1), y0=fy(y), y1=fy(y),
                   line=dict(color=color, width=w), layer="above"))


def vl(x, y0, y1, color=FRAME, w=1):
    SH.append(dict(type="line", xref="paper", yref="paper", x0=fx(x), x1=fx(x), y0=fy(y0), y1=fy(y1),
                   line=dict(color=color, width=w), layer="above"))


def rc(x0, y0, x1, y1, fill):
    SH.append(dict(type="rect", xref="paper", yref="paper", x0=fx(x0), x1=fx(x1), y0=fy(y1), y1=fy(y0),
                   fillcolor=fill, opacity=1, line=dict(color=fill, width=1), layer="above"))


rc(0, 0, W, 3, "#D8D8D8")
rc(1628, 3, W, 741, "#FFFFFF")
rc(14, 802, 45, 817, "#3A3A3A")
for y in (346, 430, 675):
    hl(y, 0, 1621)
hl(741, 0, W, "#8A8A8A", 1.5)
for y in (785, 801, 818):
    hl(y, 0, W)
for x in (395.5, 897, 948.5, 1570, 1620.5):
    vl(x, 4, 741)
for x in (13, 45.5, 76.6, 120.5, 175.7, 226, 277, 330.5, 352.4, 420.5):
    vl(x, 801, 818)
vl(1584, 741, 818)
vl(1633, 741, 818)
vl(1600.5, 801, 818)
vl(1615.5, 801, 818)

CIRCLES = [("M", "price", 32.06, 34.88, 2803.9, 2905.1), ("R", "price", 32.82, 35.82, 2813.6, 2870.4),
           ("L", "ind", 11.95, 14.95, 56.5, 122.9), ("L", "ind", 22.72, 27.28, 49.1, 99.5),
           ("L", "ind", 28.09, 30.77, -77.5, 2.1), ("M", "ind", 22.84, 26.72, -14.2, 43.4),
           ("M", "ind", 30.65, 35.35, -27.4, 43.4), ("R", "ind", 1.75, 8.69, 3.6, 52.2),
           ("R", "ind", 32.86, 36.96, 13.2, 91.0), ("R", "ind", 40.07, 44.97, 17.6, 95.4),
           ("R", "ind", 45.39, 47.29, 81.7, 108.3), ("R", "ind", 47.56, 50.24, 0.4, 46.2),
           ("R", "mup", 40.4, 45.0, -22.3, 15.0)]
for c, r, x0, x1, y0, y1 in CIRCLES:
    SH.append(dict(type="circle", xref=xa(c, r), yref=ya(c, r), x0=x0, x1=x1, y0=y0, y1=y1,
                   line=dict(color="#E83838", width=2.5)))

# ============================ ANNOTATIONS ============================
AN = []


def note(text, x, y, font, xanchor="center", **kw):
    d = dict(text=text, x=fx(x), y=fy(y), xref="paper", yref="paper", xanchor=xanchor, yanchor="middle",
             showarrow=False, font=font)
    d.update(kw)
    AN.append(d)


note_pos = [(95, 19), (95, 53), (192, 314), (474, 277), (474, 313), (474, 349), (144, 720)]
for t, (x, y) in zip(NOTES, note_pos):
    note(t, x, y, dict(color="#FF10FF", size=28, family=CJKF, weight=300, shadow="1px 0px 0px #5A20E0"),
         xanchor="left")
ARROWS = [((163, 470), (100, 66)), ((297, 492), (232, 328)), ((732, 552), (530, 323)),
          ((832, 548), (530, 323)), ((345, 604), (212, 702))]
for (hx, hy), (tx, ty) in ARROWS:
    AN.append(dict(text="", x=fx(hx), y=fy(hy), xref="paper", yref="paper", ax=tx - hx, ay=ty - hy,
                   axref="pixel", ayref="pixel", showarrow=True, arrowhead=2, arrowsize=1.1,
                   arrowwidth=3.5, arrowcolor="#FF00FF", standoff=0, startstandoff=0))
for t, x, y in VOL_UNIT:
    note(t, x, y, dict(color=AXC, size=13, family=CJKF), bordercolor="#D01010", borderwidth=1,
         borderpad=0, bgcolor="#000000")
for k, t in enumerate(TIME_LABELS):
    AN.append(dict(text=t, x=k + 0.04, y=fy(793), xref="x%d" % TN, yref="paper", xanchor="left",
                   yanchor="middle", showarrow=False, font=dict(color=AXC, size=13, family=NUMF)))
note(FIRST_DATE, -8, 793, dict(color=AXC, size=13, family=CJKF), xanchor="left")
tab_x = [5.5, 29.5, 61, 98.5, 148, 201.5, 251.5, 304, 342, 387]
for t, x in zip(TABS, tab_x):
    mixed = any(ch.isascii() for ch in t)
    note(t, x, 809.5, dict(color="#00FFFF" if t == "管理" else "#E8E8E8", size=11 if mixed else 12.5,
                           family=TABF if mixed else CJKF))
for t, x in [("屏A", 11), ("关联报价", 58)]:
    note(t, x, 829, dict(color="#E8E8E8", size=13, family=CJKF))
note("15分钟", 1606, 793, dict(color="#E8E8E8", size=13, family=CJKF))
for t, x in [("+", 1592), ("−", 1608), ("0", 1624)]:
    note(t, x, 809.5, dict(color="#E8E8E8", size=13, family=NUMF))
for y in (757, 775, 793):
    note("1", 1638, y, dict(color="#E8E8E8", size=13, family=NUMF))

layout["shapes"] = SH
layout["annotations"] = AN
fig.update_layout(**layout)
fig.write_html("out.html", config={"displayModeBar": False, "staticPlot": True},
               post_script="document.body.style.margin='0px';document.body.style.background='#000';")
